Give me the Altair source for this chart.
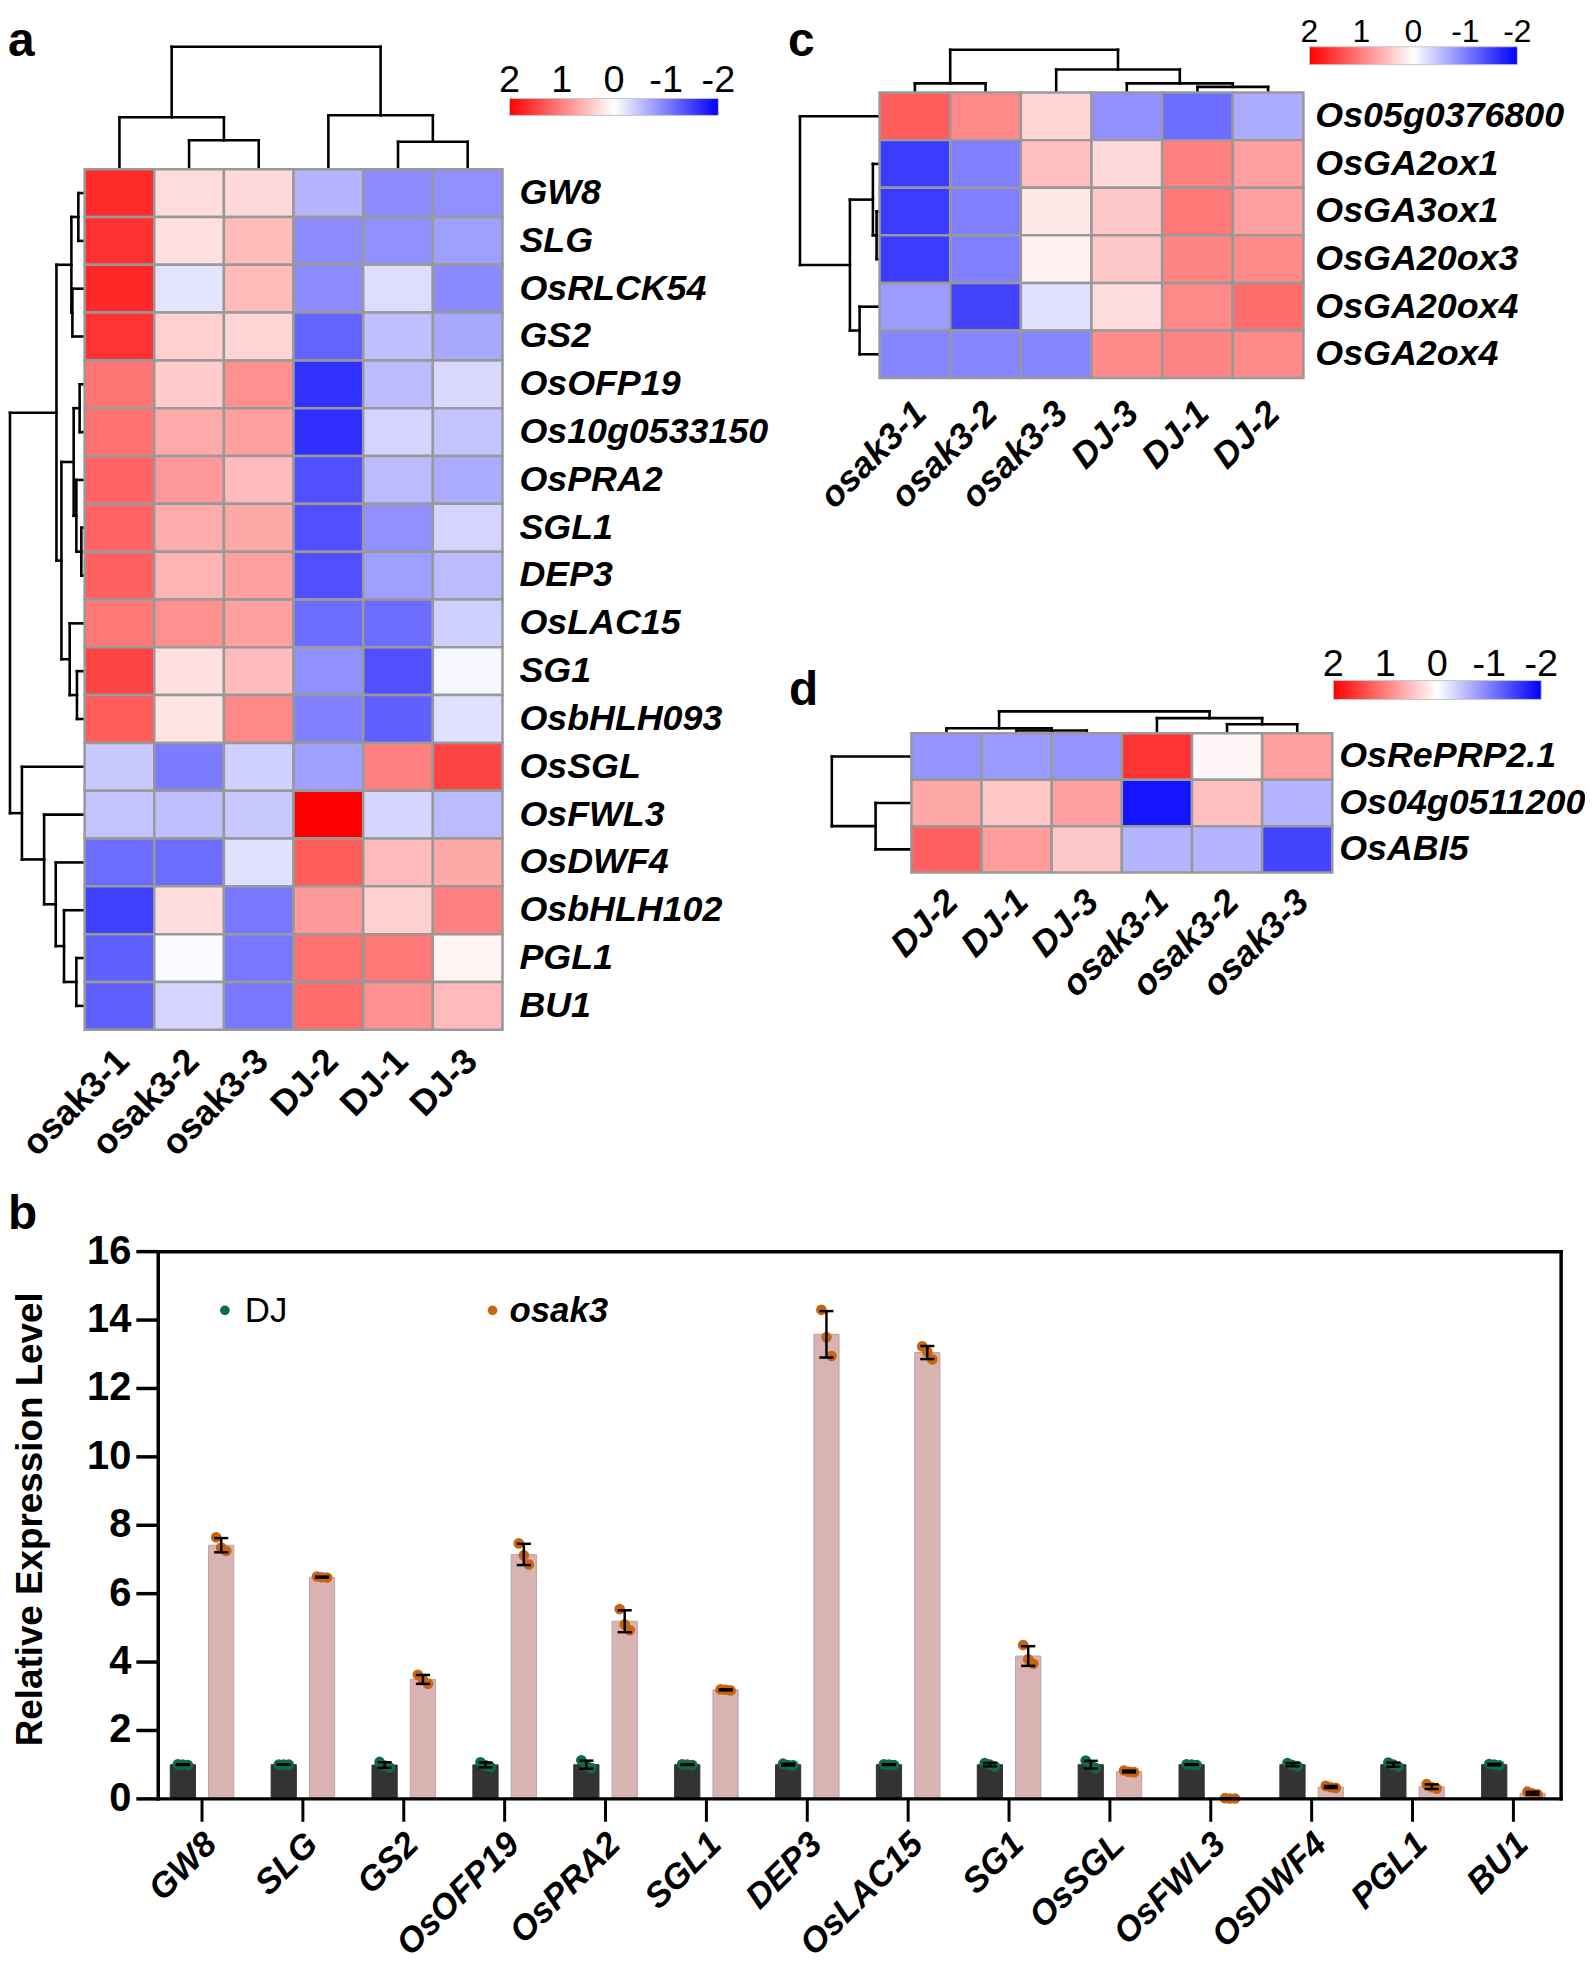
import math
import altair as alt
import numpy as np
import pandas as pd

FONT = "Liberation Sans"
MARGIN = 8
R2 = math.sqrt(2)


def P(v):
    return v - MARGIN


def rot_off(sx, sy):
    # screen offset -> offset in the frame of text rotated by 315 degrees
    return (sx - sy) / R2, (sx + sy) / R2


# ---------------- panel a data ----------------
a_cols = ["osak3-1", "osak3-2", "osak3-3", "DJ-2", "DJ-1", "DJ-3"]
a_rows = ["GW8", "SLG", "OsRLCK54", "GS2", "OsOFP19", "Os10g0533150", "OsPRA2", "SGL1", "DEP3",
          "OsLAC15", "SG1", "OsbHLH093", "OsSGL", "OsFWL3", "OsDWF4", "OsbHLH102", "PGL1", "BU1"]
a_osak3_1 = [1.67, 1.62, 1.69, 1.60, 1.09, 1.12, 1.22, 1.22, 1.25, 1.06, 1.47, 1.28, -0.43, -0.47, -1.15, -1.50, -1.25, -1.25]
a_osak3_2 = [0.27, 0.24, -0.21, 0.37, 0.40, 0.67, 0.81, 0.65, 0.59, 0.87, 0.24, 0.21, -1.03, -0.50, -1.15, 0.27, -0.03, -0.34]
a_osak3_3 = [0.30, 0.54, 0.54, 0.34, 0.87, 0.75, 0.53, 0.68, 0.75, 0.75, 0.53, 0.93, -0.37, -0.43, -0.24, -1.06, -1.06, -1.06]
a_DJ_2 = [-0.59, -0.90, -0.90, -1.22, -1.60, -1.64, -1.37, -1.37, -1.37, -1.15, -0.87, -1.00, -0.75, 2.00, 1.28, 0.81, 1.12, 1.15]
a_DJ_1 = [-0.90, -0.87, -0.27, -0.50, -0.53, -0.34, -0.53, -0.87, -0.75, -1.15, -1.37, -1.25, 1.00, -0.34, 0.53, 0.37, 1.06, 0.87]
a_DJ_3 = [-0.87, -0.75, -0.92, -0.68, -0.30, -0.47, -0.65, -0.34, -0.53, -0.37, -0.06, -0.24, 1.47, -0.53, 0.68, 1.00, 0.09, 0.53]
# dendrograms: (child, child, merge height); integers refer to earlier merges
a_col_links = [("osak3-2", "osak3-3", 29.5), ("DJ-1", "DJ-3", 28), ("osak3-1", 0, 53), ("DJ-2", 1, 55), (2, 3, 125)]
a_row_links = [("GW8", "SLG", 6.3), ("OsRLCK54", "GS2", 12.3), (0, 1, 13.3),
               ("OsOFP19", "Os10g0533150", 5), ("SGL1", "DEP3", 3.3), ("OsPRA2", 4, 8.3), (3, 5, 11),
               ("SG1", "OsbHLH093", 7.7), ("OsLAC15", 7, 15), (6, 8, 23.3), (2, 9, 28.3),
               ("PGL1", "BU1", 8.3), ("OsbHLH102", 11, 20.7), ("OsDWF4", 12, 29), ("OsFWL3", 13, 40.7),
               ("OsSGL", 14, 63), (10, 15, 75)]

# ---------------- panel c data ----------------
c_cols = ["osak3-1", "osak3-2", "osak3-3", "DJ-3", "DJ-1", "DJ-2"]
c_rows = ["Os05g0376800", "OsGA2ox1", "OsGA3ox1", "OsGA20ox3", "OsGA20ox4", "OsGA2ox4"]
c_osak3_1 = [1.28, -1.53, -1.53, -1.53, -0.78, -0.96]
c_osak3_2 = [0.93, -1.00, -1.00, -1.00, -1.47, -0.96]
c_osak3_3 = [0.34, 0.50, 0.18, 0.11, -0.24, -0.96]
c_DJ_3 = [-0.87, 0.29, 0.43, 0.43, 0.27, 0.91]
c_DJ_1 = [-1.15, 1.00, 1.06, 0.96, 0.93, 0.96]
c_DJ_2 = [-0.65, 0.75, 0.75, 0.91, 1.15, 0.91]
c_col_links = [("osak3-1", "osak3-2", 9.3), ("DJ-1", "DJ-2", 5.7), ("DJ-3", 1, 9.3), ("osak3-3", 2, 23.3), (0, 3, 43.3)]
c_row_links = [("OsGA3ox1", "OsGA20ox3", 3), ("OsGA2ox1", 0, 6.7), ("OsGA20ox4", "OsGA2ox4", 20),
               (1, 2, 29.7), ("Os05g0376800", 3, 79.7)]

# ---------------- panel d data ----------------
d_cols = ["DJ-2", "DJ-1", "DJ-3", "osak3-1", "osak3-2", "osak3-3"]
d_rows = ["OsRePRP2.1", "Os04g0511200", "OsABI5"]
d_DJ_2 = [-0.84, 0.68, 1.25]
d_DJ_1 = [-0.79, 0.45, 0.78]
d_DJ_3 = [-0.84, 0.75, 0.43]
d_osak3_1 = [1.60, -1.84, -0.59]
d_osak3_2 = [0.06, 0.50, -0.59]
d_osak3_3 = [0.75, -0.59, -1.47]
d_col_links = [("DJ-1", "DJ-3", 2.7), ("DJ-2", 0, 5), ("osak3-2", "osak3-3", 9), ("osak3-1", 2, 15), (1, 3, 21.7)]
d_row_links = [("Os04g0511200", "OsABI5", 36), ("OsRePRP2.1", 0, 80)]

legend_ticks = [2, 1, 0, -1, -2]

# ---------------- panel b data ----------------
b_genes = ["GW8", "SLG", "GS2", "OsOFP19", "OsPRA2", "SGL1", "DEP3", "OsLAC15", "SG1", "OsSGL",
           "OsFWL3", "OsDWF4", "PGL1", "BU1"]
b_dj_rep1 = [1.01, 1.00, 1.08, 1.07, 1.13, 1.01, 1.03, 1.01, 1.05, 1.12, 1.01, 1.05, 1.06, 1.02]
b_dj_rep2 = [1.00, 1.00, 0.97, 0.98, 0.97, 1.00, 0.99, 1.00, 1.00, 0.98, 1.00, 0.99, 1.00, 1.00]
b_dj_rep3 = [0.99, 1.00, 0.92, 0.93, 0.90, 0.99, 0.98, 0.99, 0.95, 0.90, 0.99, 0.96, 0.94, 0.98]
b_os_rep1 = [7.65, 6.50, 3.63, 7.47, 5.55, 3.20, 14.30, 13.23, 4.50, 0.83, 0.02, 0.38, 0.43, 0.21]
b_os_rep2 = [7.35, 6.48, 3.48, 7.12, 5.10, 3.19, 13.50, 13.07, 4.08, 0.79, 0.01, 0.34, 0.34, 0.16]
b_os_rep3 = [7.25, 6.47, 3.37, 6.85, 4.93, 3.17, 12.95, 12.85, 3.95, 0.78, 0.01, 0.32, 0.30, 0.13]
b_groups = ["DJ", "osak3"]
b_yticks = [0, 2, 4, 6, 8, 10, 12, 14, 16]

# ---------------- styles ----------------
BLUE, WHITE, RED = "#0000ff", "#ffffff", "#ff0000"
GRID = "#999999"
LBL = dict(font=FONT, fontSize=36, fontWeight="bold")

layers = []


def lin(domain, r0, r1):
    return alt.Scale(domain=domain, range=[P(r0), P(r1)], nice=False, zero=False)


def dendro_segments(leaves, links):
    pos = {name: i + 0.5 for i, name in enumerate(leaves)}
    hgt = {name: 0.0 for name in leaves}
    segs = []
    for k, (a, b, h) in enumerate(links):
        pa, ha, pb, hb = pos[a], hgt[a], pos[b], hgt[b]
        segs += [(pa, pa, ha, h), (pb, pb, hb, h), (pa, pb, h, h)]
        pos[k] = (pa + pb) / 2
        hgt[k] = h
    return pd.DataFrame(segs, columns=["p1", "p2", "h1", "h2"])


def heatmap_panel(cols, rows, colvals, box, row_gap, col_off, col_italic,
                  col_links, row_links, top_y, left_x):
    x0, x1, y0, y1 = box
    nc, nr = len(cols), len(rows)
    xs = lin([0, nc], x0, x1)
    ys = lin([0, nr], y0, y1)
    recs = []
    for ci, (c, vals) in enumerate(zip(cols, colvals)):
        for ri, (r, v) in enumerate(zip(rows, vals)):
            recs.append(dict(sample=c, gene=r, value=v, c0=ci, c1=ci + 1, r0=ri, r1=ri + 1))
    df = pd.DataFrame(recs)
    cells = alt.Chart(df).mark_rect(stroke=GRID, strokeWidth=2.5).encode(
        x=alt.X("c0:Q", scale=xs, axis=None), x2="c1:Q",
        y=alt.Y("r0:Q", scale=ys, axis=None), y2="r1:Q",
        color=alt.Color("value:Q", scale=alt.Scale(domain=[-2, 0, 2], range=[BLUE, WHITE, RED],
                                                    interpolate="rgb", clamp=True), legend=None),
    )
    rl = pd.DataFrame({"gene": rows, "pos": [i + 0.5 for i in range(nr)], "edge": [nc] * nr})
    rlab = alt.Chart(rl).mark_text(align="left", baseline="middle", dx=row_gap, fontStyle="italic", **LBL).encode(
        x=alt.X("edge:Q", scale=xs, axis=None), y=alt.Y("pos:Q", scale=ys, axis=None), text="gene:N")
    cl = pd.DataFrame({"sample": cols, "pos": [i + 0.5 for i in range(nc)], "edge": [nr] * nc})
    dx, dy = rot_off(*col_off)
    clab = alt.Chart(cl).mark_text(align="right", baseline="middle", angle=315, dx=dx, dy=dy,
                                   fontStyle="italic" if col_italic else "normal", **LBL).encode(
        x=alt.X("pos:Q", scale=xs, axis=None), y=alt.Y("edge:Q", scale=ys, axis=None), text="sample:N")
    tseg = dendro_segments(cols, col_links)
    top = alt.Chart(tseg).mark_rule(color="black", strokeWidth=2.6, strokeCap="square").encode(
        x=alt.X("p1:Q", scale=xs, axis=None), x2="p2:Q",
        y=alt.Y("h1:Q", scale=lin([0, col_links[-1][2]], y0, top_y), axis=None), y2="h2:Q")
    lseg = dendro_segments(rows, row_links)
    left = alt.Chart(lseg).mark_rule(color="black", strokeWidth=2.6, strokeCap="square").encode(
        y=alt.Y("p1:Q", scale=ys, axis=None), y2="p2:Q",
        x=alt.X("h1:Q", scale=lin([0, row_links[-1][2]], x0, left_x), axis=None), x2="h2:Q")
    return [top, left, cells, rlab, clab]


def color_legend(x0, x1, y0, y1, base, size=38):
    ls = lin([legend_ticks[0], legend_ticks[-1]], x0, x1)
    grad = alt.LinearGradient(gradient="linear", x1=0, x2=1, y1=0, y2=0,
                              stops=[alt.GradientStop(color=RED, offset=0),
                                     alt.GradientStop(color=WHITE, offset=0.5),
                                     alt.GradientStop(color=BLUE, offset=1)])
    bar = alt.Chart(pd.DataFrame({"a": [legend_ticks[0]], "b": [legend_ticks[-1]]})).mark_rect(
        fill=grad, stroke="#c8c8c8", strokeWidth=1).encode(
        x=alt.X("a:Q", scale=ls, axis=None), x2="b:Q", y=alt.value(P(y0)), y2=alt.value(P(y1)))
    labs = alt.Chart(pd.DataFrame({"v": legend_ticks, "lab": [str(t) for t in legend_ticks]})).mark_text(
        align="center", baseline="alphabetic", font=FONT, fontSize=size).encode(
        x=alt.X("v:Q", scale=ls, axis=None), y=alt.value(P(base)), text="lab:N")
    return [bar, labs]


def text_at(t, x, y, size=48, weight="bold", style="normal", angle=0, align="left", baseline="alphabetic"):
    return alt.Chart(pd.DataFrame({"t": [t]})).mark_text(
        font=FONT, fontSize=size, fontWeight=weight, fontStyle=style, angle=angle,
        align=align, baseline=baseline).encode(x=alt.value(P(x)), y=alt.value(P(y)), text="t:N")


# ---------------- heatmaps ----------------
layers += heatmap_panel(a_cols, a_rows, [a_osak3_1, a_osak3_2, a_osak3_3, a_DJ_2, a_DJ_1, a_DJ_3],
                        (85, 505, 165, 1030), 17, (4, 26), False, a_col_links, a_row_links, 42, 10)
layers += color_legend(512, 722, 94, 111, 87)
layers += heatmap_panel(c_cols, c_rows, [c_osak3_1, c_osak3_2, c_osak3_3, c_DJ_3, c_DJ_1, c_DJ_2],
                        (884, 1310, 88, 375), 12, (6, 30), True, c_col_links, c_row_links, 45, 804)
layers += color_legend(1316, 1525, 42, 60, 37, size=32)
layers += heatmap_panel(d_cols, d_rows, [d_DJ_2, d_DJ_1, d_DJ_3, d_osak3_1, d_osak3_2, d_osak3_3],
                        (916, 1339, 732, 872), 7, (6, 24), True, d_col_links, d_row_links, 710, 836)
layers += color_legend(1340, 1549, 679, 698, 674)

# ---------------- panel b ----------------
BXMIN, BXMAX = -0.434, 13.473
xb = lin([BXMIN, BXMAX], 159, 1569)
yb = lin([0, 16], 1803, 1253)
OFFS = {"DJ": -0.19, "osak3": 0.19}
HALF, CAP, JIT = 0.125, 0.07, 0.05

bar_rows, pt_rows = [], []
for gi, g in enumerate(b_genes):
    reps_by = {"DJ": (b_dj_rep1[gi], b_dj_rep2[gi], b_dj_rep3[gi]),
               "osak3": (b_os_rep1[gi], b_os_rep2[gi], b_os_rep3[gi])}
    for grp in b_groups:
        reps = reps_by[grp]
        m = float(np.mean(reps))
        s = float(np.std(reps, ddof=1))
        c = gi + OFFS[grp]
        bar_rows.append(dict(gene=g, group=grp, mean=m, lo=m - s, hi=m + s, xc=c,
                             xl=c - HALF, xr=c + HALF, cl=c - CAP, cr=c + CAP, zero=0))
        for k, v in enumerate(reps):
            pt_rows.append(dict(gene=g, group=grp, value=v, xp=c + (k - 1) * JIT))
bars = pd.DataFrame(bar_rows)
pts = pd.DataFrame(pt_rows)

BAR_FILL = {"DJ": "#333333", "osak3": "#d9b3b2"}
BAR_STROKE = {"DJ": "#333333", "osak3": "#b9a2a2"}
PT_COL = {"DJ": "#0f6b4e", "osak3": "#c8650e"}

for grp in b_groups:
    sub = bars[bars.group == grp]
    layers.append(alt.Chart(sub).mark_rect(fill=BAR_FILL[grp], stroke=BAR_STROKE[grp], strokeWidth=1).encode(
        x=alt.X("xl:Q", scale=xb, axis=None), x2="xr:Q",
        y=alt.Y("mean:Q", scale=yb, axis=None), y2="zero:Q"))
for grp in b_groups:
    sub = pts[pts.group == grp]
    layers.append(alt.Chart(sub).mark_circle(size=115, opacity=1, color=PT_COL[grp]).encode(
        x=alt.X("xp:Q", scale=xb, axis=None), y=alt.Y("value:Q", scale=yb, axis=None)))
layers.append(alt.Chart(bars).mark_rule(color="black", strokeWidth=2.5).encode(
    x=alt.X("xc:Q", scale=xb, axis=None), y=alt.Y("lo:Q", scale=yb, axis=None), y2="hi:Q"))
for f in ["lo", "hi"]:
    layers.append(alt.Chart(bars).mark_rule(color="black", strokeWidth=2.5).encode(
        x=alt.X("cl:Q", scale=xb, axis=None), x2="cr:Q", y=alt.Y(f"{f}:Q", scale=yb, axis=None)))

# frame
frame = pd.DataFrame({"x1": [BXMIN, BXMIN, BXMAX, BXMIN], "x2": [BXMIN, BXMAX, BXMAX, BXMAX],
                      "y1": [0, 16, 0, 0], "y2": [16, 16, 16, 0]})
layers.append(alt.Chart(frame).mark_rule(color="black", strokeWidth=3.5, strokeCap="square").encode(
    x=alt.X("x1:Q", scale=xb, axis=None), x2="x2:Q", y=alt.Y("y1:Q", scale=yb, axis=None), y2="y2:Q"))

# x ticks and labels
gdf = pd.DataFrame({"gene": b_genes, "idx": list(range(len(b_genes))), "zero": [0] * len(b_genes)})
layers.append(alt.Chart(gdf).mark_rule(color="black", strokeWidth=3).encode(
    x=alt.X("idx:Q", scale=xb, axis=None), y=alt.Y("zero:Q", scale=yb, axis=None), y2=alt.value(P(1826))))
bdx, bdy = rot_off(9, 40)
layers.append(alt.Chart(gdf).mark_text(align="right", baseline="middle", angle=315, dx=bdx, dy=bdy,
                                       fontStyle="italic", **{**LBL, "fontSize": 35}).encode(
    x=alt.X("idx:Q", scale=xb, axis=None), y=alt.Y("zero:Q", scale=yb, axis=None), text="gene:N"))

# y ticks and labels
tdf = pd.DataFrame({"t": b_yticks, "lab": [str(t) for t in b_yticks]})
layers.append(alt.Chart(tdf).mark_rule(color="black", strokeWidth=3.5).encode(
    y=alt.Y("t:Q", scale=yb, axis=None), x=alt.value(P(137)), x2=alt.value(P(159))))
layers.append(alt.Chart(tdf).mark_text(align="right", baseline="middle", font=FONT, fontSize=40,
                                       fontWeight="bold").encode(
    y=alt.Y("t:Q", scale=yb, axis=None), x=alt.value(P(132)), text="lab:N"))

layers.append(text_at("Relative Expression Level", 31, 1522, size=37, angle=270, align="center", baseline="middle"))

# legend of panel b
leg_px = [226, 495]
leg_tx = [246, 512]
leg_weight = ["normal", "bold"]
leg_style = ["normal", "italic"]
for i, grp in enumerate(b_groups):
    layers.append(alt.Chart(pd.DataFrame({"k": [0]})).mark_circle(size=95, opacity=1, color=PT_COL[grp]).encode(
        x=alt.value(P(leg_px[i])), y=alt.value(P(1312))))
    layers.append(text_at(grp, leg_tx[i], 1324, size=35, weight=leg_weight[i], style=leg_style[i]))

# panel letters
layers.append(text_at("a", 8, 51))
layers.append(text_at("c", 792, 51))
layers.append(text_at("d", 793, 704))
layers.append(text_at("b", 8, 1230))

chart = alt.layer(*layers).properties(
    width=1585, height=1956, autosize="none", padding=0
).resolve_scale(x="independent", y="independent", color="independent").configure_view(stroke=None)

chart.save("out.html", embed_options={"renderer": "svg", "actions": False})
